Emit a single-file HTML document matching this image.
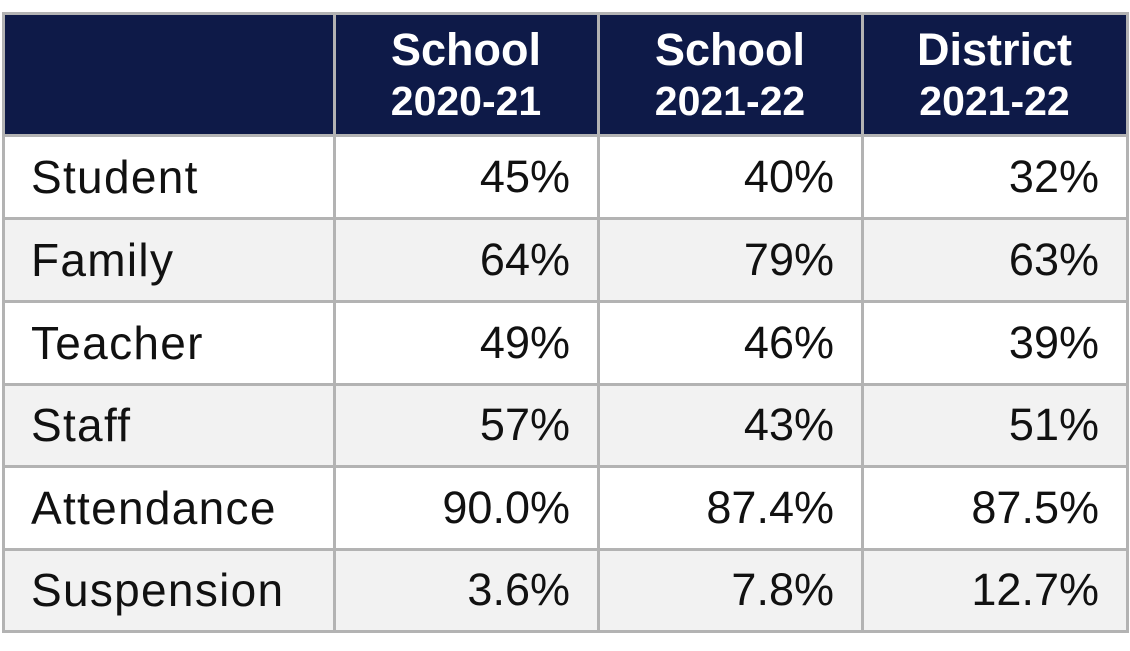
<!DOCTYPE html>
<html><head><style>
body{margin:0;width:1130px;height:651px;background:#fff;font-family:"Liberation Sans",Arial,sans-serif;overflow:hidden}
.c{position:absolute;box-sizing:border-box;display:flex;align-items:center}
.h{background:#0e1a48;color:#fff;font-weight:bold;flex-direction:column;justify-content:center;text-align:center;line-height:1}
.h .a{font-size:45px}.h .b{font-size:41px;margin-top:9px}
.v{justify-content:flex-end;padding-right:28px;font-size:45px;color:#111}
.l{padding-left:28px;font-size:46px;letter-spacing:1.3px;color:#111}
.line{position:absolute;background:#b3b3b3}
</style></head><body>
<div id="t"></div>
<script>
var xs=[3,334,598,862,1127],ys=[13,135,218,301,384,466,549,631];
var rows=[["Student","45%","40%","32%"],["Family","64%","79%","63%"],["Teacher","49%","46%","39%"],["Staff","57%","43%","51%"],["Attendance","90.0%","87.4%","87.5%"],["Suspension","3.6%","7.8%","12.7%"]];
var hd=[["",""],["School","2020-21"],["School","2021-22"],["District","2021-22"]];
var h="";
for(var c=0;c<4;c++){h+='<div class="c h" style="left:'+xs[c]+'px;top:'+ys[0]+'px;width:'+(xs[c+1]-xs[c])+'px;height:'+(ys[1]-ys[0])+'px">'+(hd[c][0]?'<div class="a">'+hd[c][0]+'</div><div class="b">'+hd[c][1]+'</div>':'')+'</div>';}
for(var r=0;r<6;r++){for(var c=0;c<4;c++){h+='<div class="c '+(c?'v':'l')+'" style="background:'+(r%2?'#f2f2f2':'#fff')+';left:'+xs[c]+'px;top:'+ys[r+1]+'px;width:'+(xs[c+1]-xs[c])+'px;height:'+(ys[r+2]-ys[r+1])+'px">'+rows[r][c]+'</div>';}}
for(var i=0;i<xs.length;i++)h+='<div class="line" style="left:'+(xs[i]-1.5)+'px;top:11.5px;width:3px;height:'+(ys[7]-10)+'px"></div>';
for(var i=0;i<ys.length;i++)h+='<div class="line" style="top:'+(ys[i]-1.5)+'px;left:1.5px;height:3px;width:1127px"></div>';
document.getElementById("t").innerHTML=h;
</script>
</body></html>
